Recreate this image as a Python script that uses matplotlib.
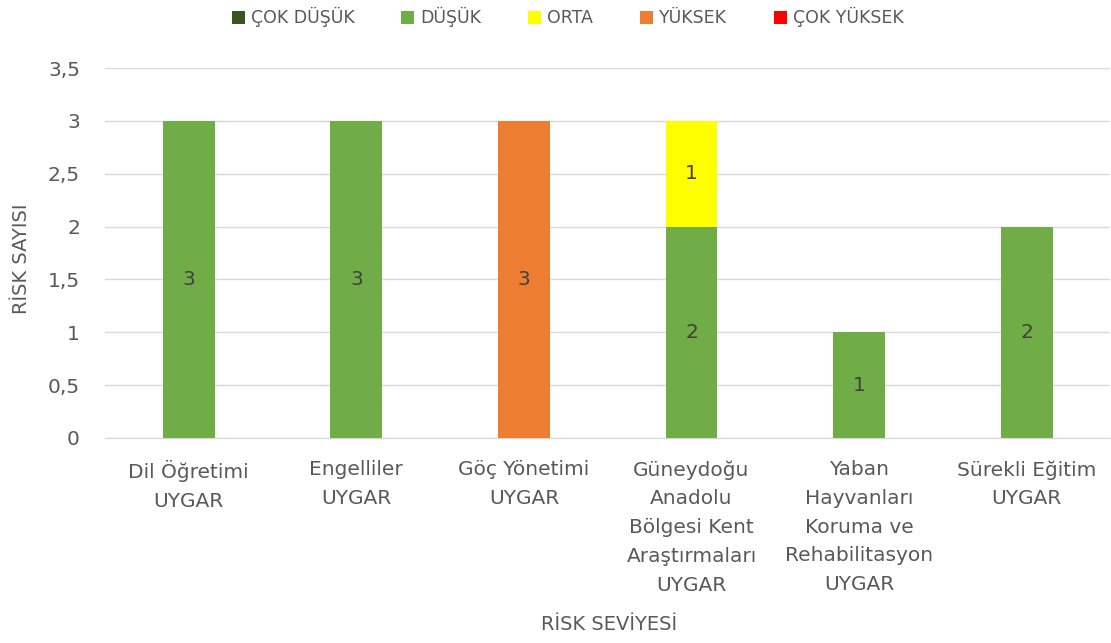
import numpy as np
import matplotlib
matplotlib.use('Agg')
import matplotlib.pyplot as plt

# Chart data
categories = [
    'Dil Öğretimi\nUYGAR',
    'Engelliler\nUYGAR',
    'Göç Yönetimi\nUYGAR',
    'Güneydoğu\nAnadolu\nBölgesi Kent\nAraştırmaları\nUYGAR',
    'Yaban\nHayvanları\nKoruma ve\nRehabilitasyon\nUYGAR',
    'Sürekli Eğitim\nUYGAR',
]
series_names = ['ÇOK DÜŞÜK', 'DÜŞÜK', 'ORTA', 'YÜKSEK', 'ÇOK YÜKSEK']
cok_dusuk = [0, 0, 0, 0, 0, 0]
dusuk = [3, 3, 0, 2, 1, 2]
orta = [0, 0, 0, 1, 0, 0]
yuksek = [0, 0, 3, 0, 0, 0]
cok_yuksek = [0, 0, 0, 0, 0, 0]
colors = ['#375623', '#70AD47', '#FFFF00', '#ED7D31', '#FF0000']
yticks = [0, 0.5, 1, 1.5, 2, 2.5, 3, 3.5]
ytick_labels = ['0', '0,5', '1', '1,5', '2', '2,5', '3', '3,5']

plt.rcParams['font.family'] = ['DejaVu Sans']
text_color = '#595959'

fig = plt.figure(figsize=(11.11, 6.43), dpi=100)
ax = fig.add_axes([0.0945, 0.319, 0.905, 0.575])

x = np.arange(len(categories))
bottom = np.zeros(len(categories))
handles = []
for name, vals, col in zip(series_names,
                           [cok_dusuk, dusuk, orta, yuksek, cok_yuksek], colors):
    vals = np.array(vals, dtype=float)
    h = ax.bar(x, vals, 0.31, bottom=bottom, color=col, label=name, zorder=3)
    handles.append(h)
    for xi, v, b in zip(x, vals, bottom):
        if v > 0:
            ax.text(xi, b + v / 2, f'{int(v)}', ha='center', va='center',
                    fontsize=14.5, color='#404040', zorder=4)
    bottom += vals

ax.set_xlim(-0.5, len(categories) - 0.5)
ax.set_ylim(0, 3.5)
ax.set_yticks(yticks)
ax.set_yticklabels(ytick_labels)
ax.set_xticks(x)
ax.set_xticklabels(categories, linespacing=1.65)
ax.tick_params(axis='both', length=0, labelsize=14.5, colors=text_color)
ax.tick_params(axis='y', pad=18)
ax.tick_params(axis='x', pad=16)
ax.yaxis.grid(True, color='#D9D9D9', linewidth=1, zorder=0)
for s in ['top', 'right', 'left']:
    ax.spines[s].set_visible(False)
ax.spines['bottom'].set_color('#D9D9D9')

fig.text(0.019, 0.598, 'RİSK SAYISI', rotation=90, ha='center', va='center',
         fontsize=14, color=text_color)
fig.text(0.548, 0.028, 'RİSK SEVİYESİ', ha='center', va='center',
         fontsize=14, color=text_color)

fig.legend(handles=handles, loc='center', bbox_to_anchor=(0.511, 0.973), ncol=5,
           frameon=False, fontsize=12.5, labelcolor=text_color,
           handlelength=0.75, handleheight=0.75, handletextpad=0.35,
           columnspacing=2.7)

fig.savefig('out.png', dpi=100)
